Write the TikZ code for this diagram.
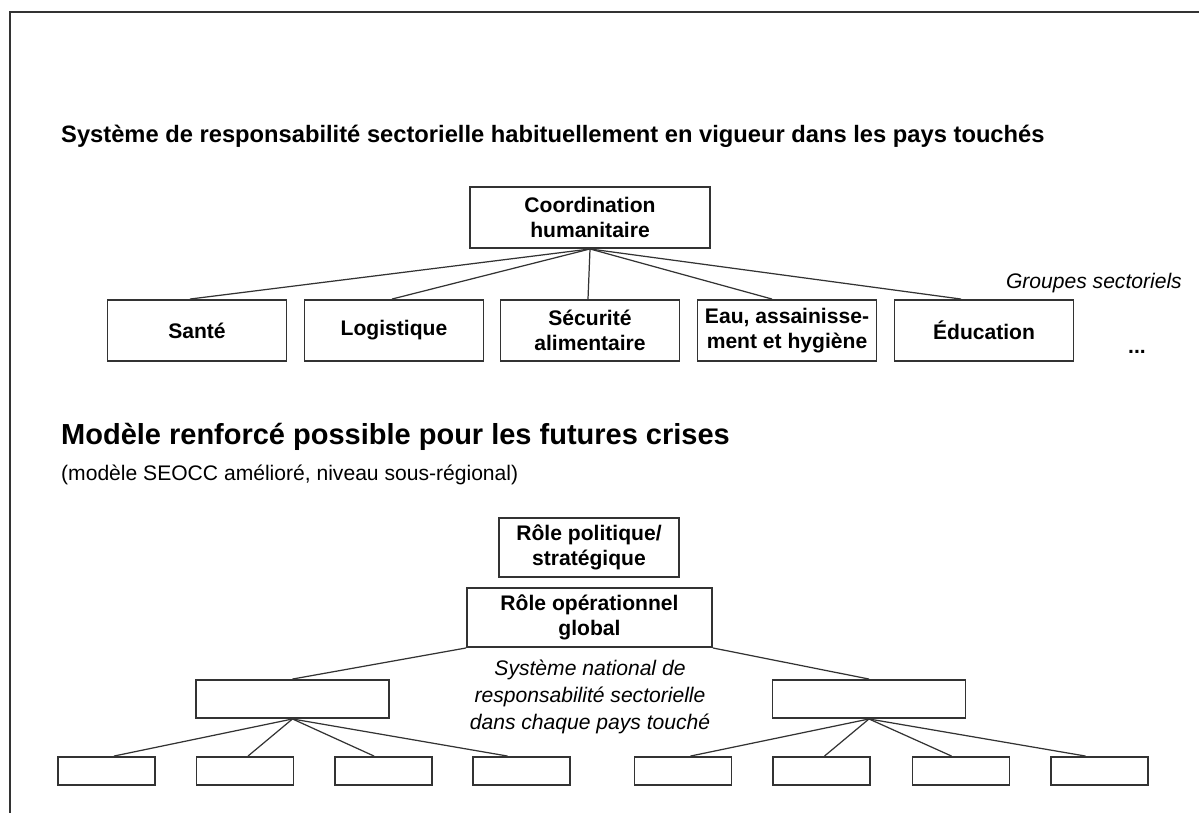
\documentclass[tikz,border=0pt]{standalone}
\usepackage{fontspec}
\setmainfont{Liberation Sans}
\begin{document}
\begin{tikzpicture}[x=0.02cm,y=-0.02cm,
    boite/.style={draw=black!80,line width=1.1pt,align=center,inner sep=0pt,
      font=\fontsize{12}{14}\selectfont\bfseries},
    groupe/.style={boite,minimum width=3.58cm,minimum height=1.22cm},
    petite/.style={boite,minimum width=1.94cm,minimum height=0.56cm},
    moyenne/.style={boite,minimum width=3.86cm,minimum height=0.76cm},
    lien/.style={draw=black!80,line width=0.7pt}]
	\useasboundingbox (0,0) rectangle (1199,812);
	% 外框
	\draw[black!80,line width=1.3pt] (10,830) -- (10,12) -- (1220,12);
	% 标题
	\node[anchor=west,font=\fontsize{13.5}{16}\selectfont\bfseries] (titreA) at (55,136)
		{Système de responsabilité sectorielle habituellement en vigueur dans les pays touchés};
	% 上部结构
	\node[boite,minimum width=4.8cm,minimum height=1.22cm] (coord) at (590,217.5) {Coordination\\humanitaire};
	\node[groupe] (sante) at (197,330.5) {Santé};
	\node[groupe] (logis) at (394,330.5) {Logistique};
	\node[groupe] (secu) at (590,330.5) {Sécurité\\alimentaire};
	\node[groupe] (eau) at (787,330.5) {Eau, assainisse-\\ment et hygiène};
	\node[groupe] (educ) at (984,330.5) {Éducation};
	\node[anchor=east,font=\fontsize{12}{14}\selectfont\itshape] (groupes) at (1188,283) {Groupes sectoriels};
	\node[font=\fontsize{12}{14}\selectfont\bfseries] (etc) at (1137,352) {...};
	% 连线
	\draw[lien] (coord.south) -- ([xshift=-0.14cm]sante.north);
	\draw[lien] (coord.south) -- ([xshift=-0.04cm]logis.north);
	\draw[lien] (coord.south) -- ([xshift=-0.04cm]secu.north);
	\draw[lien] (coord.south) -- ([xshift=-0.3cm]eau.north);
	\draw[lien] (coord.south) -- ([xshift=-0.46cm]educ.north);
	% 第二部分标题
	\node[anchor=west,font=\fontsize{16.5}{20}\selectfont\bfseries] (titreB) at (55,437)
		{Modèle renforcé possible pour les futures crises};
	\node[anchor=west,font=\fontsize{12}{14}\selectfont] (soustitre) at (55,475)
		{(modèle SEOCC amélioré, niveau sous-régional)};
	% 下部结构
	\node[boite,minimum width=3.6cm,minimum height=1.18cm] (politique) at (589,547.5) {Rôle politique/\\stratégique};
	\node[boite,minimum width=4.9cm,minimum height=1.18cm] (oper) at (589.5,617.5) {Rôle opérationnel\\global};
	\node[align=center,font=\fontsize{12}{15.3}\selectfont\itshape] (national) at (590,697)
		{Système national de\\responsabilité sectorielle\\dans chaque pays touché};
	\node[moyenne] (gauche) at (292.5,699) {};
	\node[moyenne] (droite) at (869,699) {};
	\draw[lien] (oper.south west) -- (gauche.north);
	\draw[lien] (oper.south east) -- (droite.north);
	% 小方框
	\foreach \x [count=\i] in {106.5,245,383.5,521.5}
		\node[petite] (g\i) at (\x,771) {};
	\foreach \x [count=\i] in {683,821.5,961,1099.5}
		\node[petite] (d\i) at (\x,771) {};
	\foreach \i/\dx in {1/0.15,2/0.06,3/-0.19,4/-0.28}
	{
		\draw[lien] (gauche.south) -- ([xshift=\dx cm]g\i.north);
		\draw[lien] (droite.south) -- ([xshift=\dx cm]d\i.north);
	}
\end{tikzpicture}
\end{document}
